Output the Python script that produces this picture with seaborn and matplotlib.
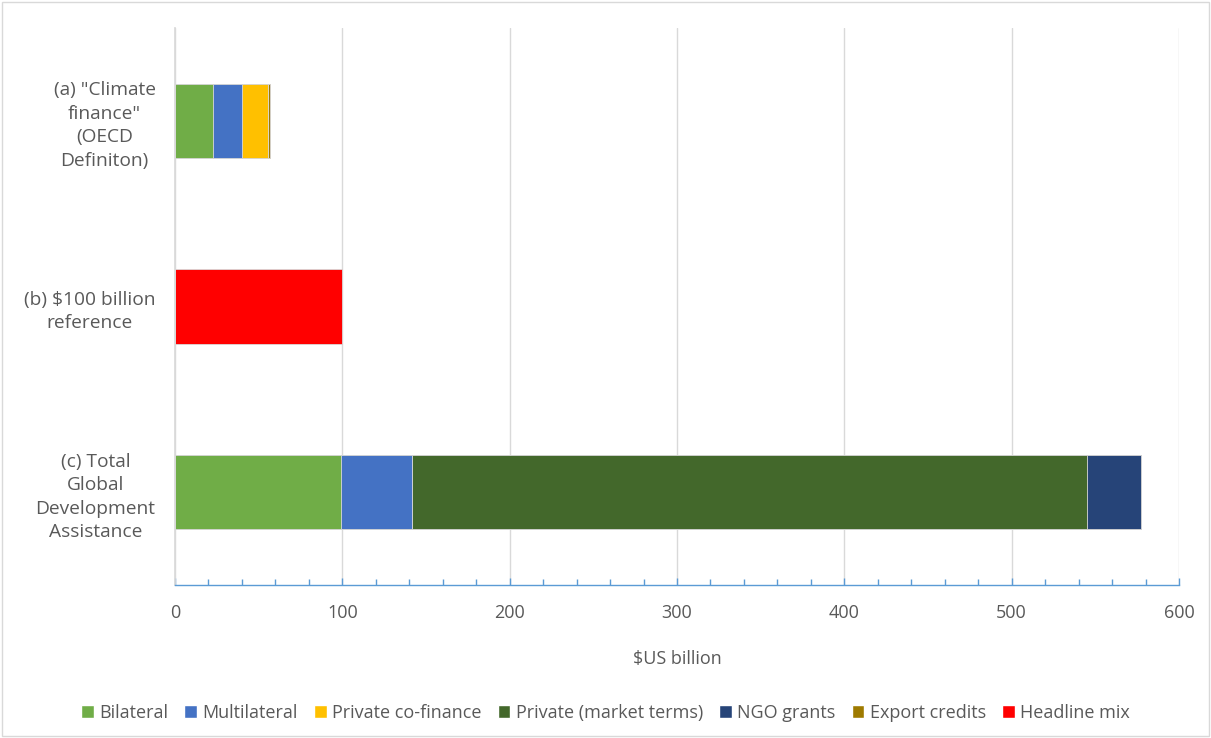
import matplotlib
matplotlib.use("Agg")
import matplotlib.pyplot as plt
from matplotlib.patches import Patch, Rectangle
from matplotlib.ticker import MultipleLocator
import seaborn as sns
import pandas as pd
import numpy as np

categories = ['(a) "Climate\nfinance"\n(OECD\nDefiniton)',
              '(b) $100 billion\nreference',
              '(c) Total\nGlobal\nDevelopment\nAssistance']
series_names = ["Bilateral", "Multilateral", "Private co-finance",
                "Private (market terms)", "NGO grants", "Export credits", "Headline mix"]
bilateral = [22.5, 0, 99.0]
multilateral = [17.7, 0, 42.4]
private_cofinance = [15.2, 0, 0]
private_market = [0, 0, 403.8]
ngo_grants = [0, 0, 32.1]
export_credits = [1.6, 0, 0]
headline_mix = [0, 100, 0]
colors = ["#70AD47", "#4472C4", "#FFC000", "#43682B", "#264478", "#9E7A00", "#FF0000"]

values = [bilateral, multilateral, private_cofinance, private_market,
          ngo_grants, export_credits, headline_mix]

sns.set_theme(style="white")
plt.rcParams['font.family'] = ['Open Sans', 'DejaVu Sans']
txt = "#595959"

fig = plt.figure(figsize=(12.11, 7.38), dpi=100)
ax = fig.add_axes([175/1211, 1-585/738, (1179-175)/1211, (585-28)/738])

cum = np.cumsum(np.array(values, dtype=float), axis=0)
df = pd.DataFrame({"cat": categories})
for i in range(len(series_names) - 1, -1, -1):
    df["v"] = cum[i]
    sns.barplot(data=df, x="v", y="cat", orient="h", color=colors[i],
                width=0.4, ax=ax, saturation=1, edgecolor="#d9d9d9", linewidth=0.6)

ax.set_xlim(0, 600)
ax.set_ylim(2.5, -0.5)
ax.xaxis.set_major_locator(MultipleLocator(100))
ax.xaxis.set_minor_locator(MultipleLocator(20))
ax.grid(axis="x", which="major", color="#d9d9d9", linewidth=1)
ax.set_axisbelow(True)
for s in ["top", "right"]:
    ax.spines[s].set_visible(False)
ax.spines["left"].set_color("#d9d9d9")
ax.spines["bottom"].set_color("#5B9BD5")
ax.spines["bottom"].set_linewidth(1)
ax.tick_params(axis="x", which="both", direction="in", color="#5B9BD5", bottom=True)
ax.tick_params(axis="x", which="major", length=5, width=1, labelsize=13, labelcolor=txt, pad=14)
ax.tick_params(axis="x", which="minor", length=4, width=1)
ax.tick_params(axis="y", left=False, labelsize=13.8, labelcolor=txt, pad=8)
for lab in ax.get_yticklabels():
    lab.set_horizontalalignment("right")
    lab.set_multialignment("center")
    lab.set_linespacing(1.4)
ax.set_xlabel("$US billion", fontsize=13, color=txt, labelpad=20)
ax.set_ylabel("")

handles = [Patch(facecolor=c, label=n) for c, n in zip(colors, series_names)]
fig.legend(handles=handles, loc="center", bbox_to_anchor=(0.5, 1-713/738), ncol=7,
           frameon=False, fontsize=13, labelcolor=txt, handlelength=0.7,
           handleheight=0.7, handletextpad=0.3, columnspacing=0.9)

fig.patches.append(Rectangle((2/1211, 2/738), 1-4/1211, 1-4/738, transform=fig.transFigure,
                             fill=False, edgecolor="#d9d9d9", linewidth=1))
fig.savefig("out.png", dpi=100)
